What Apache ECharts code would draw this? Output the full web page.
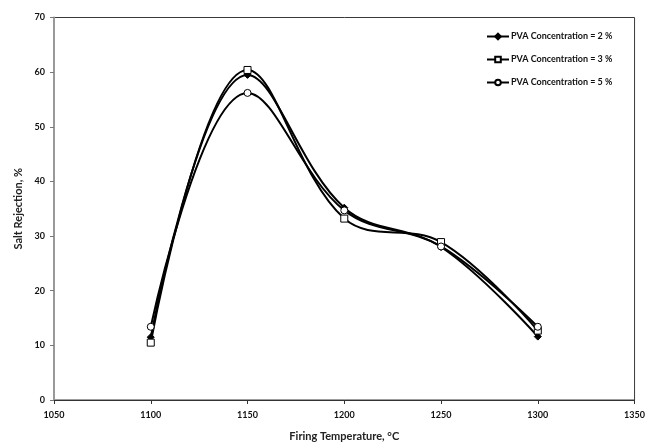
<!DOCTYPE html>
<html>
<head>
<meta charset="utf-8">
<script src="https://cdn.jsdelivr.net/npm/echarts@6/dist/echarts.min.js"></script>
<style>
  html, body { margin: 0; padding: 0; background: #fff; }
  #chart { width: 648px; height: 447px; }
</style>
</head>
<body>
<div id="chart"></div>
<script>
// Firing temperatures (°C)
const temperatures = [1100, 1150, 1200, 1250, 1300];

// Salt rejection (%) for each PVA concentration
const pva2 = [11.5, 59.5, 35.2, 28.0, 11.6];
const pva3 = [10.5, 60.4, 33.2, 28.9, 12.7];
const pva5 = [13.4, 56.2, 34.7, 28.1, 13.4];

const seriesNames = ['PVA Concentration = 2 %', 'PVA Concentration = 3 %', 'PVA Concentration = 5 %'];

const FONT = 'Lato, "Open Sans", sans-serif';

function pairs(ys) {
  return temperatures.map((t, i) => [t, ys[i]]);
}

function makeSeries(name, ys, symbol, size, filled) {
  return {
    name: name,
    type: 'line',
    smooth: 0.38,
    data: pairs(ys),
    symbol: symbol,
    symbolSize: size,
    showSymbol: true,
    lineStyle: { color: '#000', width: 2 },
    itemStyle: {
      color: filled ? '#000' : '#fff',
      borderColor: '#000',
      borderWidth: 1
    },
    emphasis: { disabled: true },
    z: 2
  };
}

const chart = echarts.init(document.getElementById('chart'), null, { renderer: 'canvas' });

chart.setOption({
  animation: false,
  backgroundColor: '#fff',
  grid: {
    left: 54, right: 12.5, top: 17.5, bottom: 43.5,
    show: true, borderColor: '#3a3a3a', borderWidth: 1,
    containLabel: false
  },
  legend: {
    orient: 'vertical',
    left: 481,
    top: 27,
    itemGap: 14,
    itemWidth: 22,
    itemHeight: 7,
    textStyle: { fontFamily: FONT, fontWeight: 'bold', fontSize: 9, color: '#111', padding: [0, 0, 0, -3] },
    data: seriesNames
  },
  xAxis: {
    type: 'value',
    min: 1050, max: 1350, interval: 50,
    name: 'Firing Temperature, °C',
    nameLocation: 'middle',
    nameGap: 31,
    nameTextStyle: { fontFamily: FONT, fontSize: 11, fontWeight: 'bold', color: '#222' },
    axisLine: { show: true, onZero: false, lineStyle: { color: '#333', width: 1 } },
    axisTick: { show: true, length: 4, inside: false, lineStyle: { color: '#333' } },
    axisLabel: {
      fontFamily: FONT, fontSize: 9, fontWeight: 'bold', color: '#111', margin: 11,
      formatter: (v) => String(v)
    },
    splitLine: { show: false }
  },
  yAxis: {
    type: 'value',
    min: 0, max: 70, interval: 10,
    name: 'Salt Rejection, %',
    nameLocation: 'middle',
    nameGap: 29,
    nameTextStyle: { fontFamily: FONT, fontSize: 11, fontWeight: 'bold', color: '#222' },
    axisLine: { show: true, lineStyle: { color: '#999', width: 2 } },
    axisTick: { show: true, length: 4, inside: false, lineStyle: { color: '#777' } },
    axisLabel: { fontFamily: FONT, fontSize: 9, fontWeight: 'bold', color: '#111', margin: 9 },
    splitLine: { show: false }
  },
  series: [
    makeSeries(seriesNames[0], pva2, 'diamond', 7, true),
    makeSeries(seriesNames[1], pva3, 'rect', 7, false),
    makeSeries(seriesNames[2], pva5, 'circle', 7, false)
  ]
});
</script>
</body>
</html>
